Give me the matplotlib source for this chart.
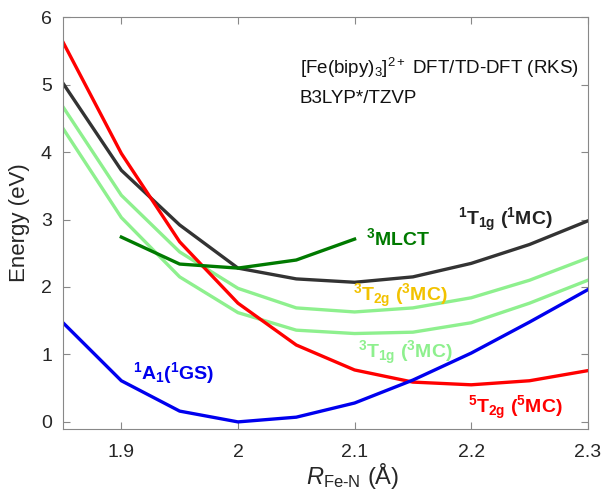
import matplotlib
matplotlib.use("Agg")
import matplotlib.pyplot as plt

plt.rcParams['font.family'] = ['Liberation Sans', 'DejaVu Sans']
plt.rcParams['mathtext.fontset'] = 'custom'
plt.rcParams['mathtext.rm'] = 'Liberation Sans'
plt.rcParams['mathtext.it'] = 'Liberation Sans:italic'
plt.rcParams['mathtext.bf'] = 'Liberation Sans:bold'

# Fe-N distance (Angstrom)
r_fen = [1.85, 1.9, 1.95, 2.0, 2.05, 2.1, 2.15, 2.2, 2.25, 2.3]

# energies (eV)
e_1a1 = [1.47, 0.61, 0.16, 0.00, 0.07, 0.28, 0.62, 1.02, 1.48, 1.96]
e_5t2g = [5.63, 3.98, 2.67, 1.76, 1.14, 0.77, 0.59, 0.55, 0.61, 0.76]
e_1t1g = [5.02, 3.73, 2.92, 2.28, 2.12, 2.07, 2.15, 2.35, 2.63, 2.98]
e_3t2g = [4.67, 3.36, 2.52, 1.98, 1.69, 1.63, 1.69, 1.84, 2.10, 2.43]
e_3t1g = [4.35, 3.03, 2.15, 1.62, 1.36, 1.31, 1.33, 1.47, 1.76, 2.10]

r_mlct = [1.9, 1.95, 2.0, 2.05, 2.1]
e_3mlct = [2.74, 2.34, 2.28, 2.40, 2.71]

fig = plt.figure(figsize=(6.06, 4.91), dpi=100)
ax = fig.add_axes([0.104, 0.127, 0.866, 0.838])

lw = 2.4
ax.plot(r_fen, e_3t1g, color='#8ef08e', lw=lw)
ax.plot(r_fen, e_3t2g, color='#8ef08e', lw=lw)
ax.plot(r_fen, e_1t1g, color='#333333', lw=lw)
ax.plot(r_fen, e_5t2g, color='#ff0000', lw=lw)
ax.plot(r_mlct, e_3mlct, color='#007a00', lw=lw)
ax.plot(r_fen, e_1a1, color='#0000ee', lw=lw)

ax.set_xlim(1.85, 2.3)
ax.set_ylim(-0.1, 6)
ax.set_xticks([1.9, 2.0, 2.1, 2.2, 2.3])
ax.set_xticklabels(['1.9', '2', '2.1', '2.2', '2.3'])
ax.set_yticks([0, 1, 2, 3, 4, 5, 6])
ax.tick_params(direction='in', top=True, right=True, labelsize=14,
               length=5, color='#888888', labelcolor='#262626', pad=8)
ax.tick_params(axis='x', pad=11)
for sp in ax.spines.values():
    sp.set_color('#888888')

ax.set_ylabel('Energy (eV)', fontsize=16, color='#262626', labelpad=8)
ax.set_xlabel('$R_{\\mathrm{Fe‐N}}$ (Å)', fontsize=17, color='#262626')
ax.xaxis.set_label_coords(0.551, -0.078)

ax.text(2.053, 5.24, '[Fe(bipy)$_3$]$^{2+}$ DFT/TD-DFT (RKS)', fontsize=13.5,
        va='center', color='#111111')
ax.text(2.053, 4.80, 'B3LYP*/TZVP', fontsize=13.5, va='center', color='#111111')

ax.text(2.110, 2.73, r'$\mathbf{^3}$MLCT', fontsize=14, fontweight='bold',
        va='center', color='#007a00')
ax.text(2.189, 2.99, r'$\mathbf{^1T_{1g}\ (^1MC)}$', fontsize=14,
        va='center', color='#222222')
ax.text(2.099, 1.87, r'$\mathbf{^3T_{2g}\ (^3MC)}$', fontsize=14,
        va='center', color='#f2c200')
ax.text(2.103, 1.02, r'$\mathbf{^3T_{1g}\ (^3MC)}$', fontsize=14,
        va='center', color='#8ef08e')
ax.text(2.197, 0.21, r'$\mathbf{^5T_{2g}\ (^5MC)}$', fontsize=14,
        va='center', color='#ff0000')
ax.text(1.910, 0.73, r'$\mathbf{^1A_1(^1GS)}$', fontsize=14,
        va='center', color='#0000ee')

fig.savefig('out.png', dpi=100)
